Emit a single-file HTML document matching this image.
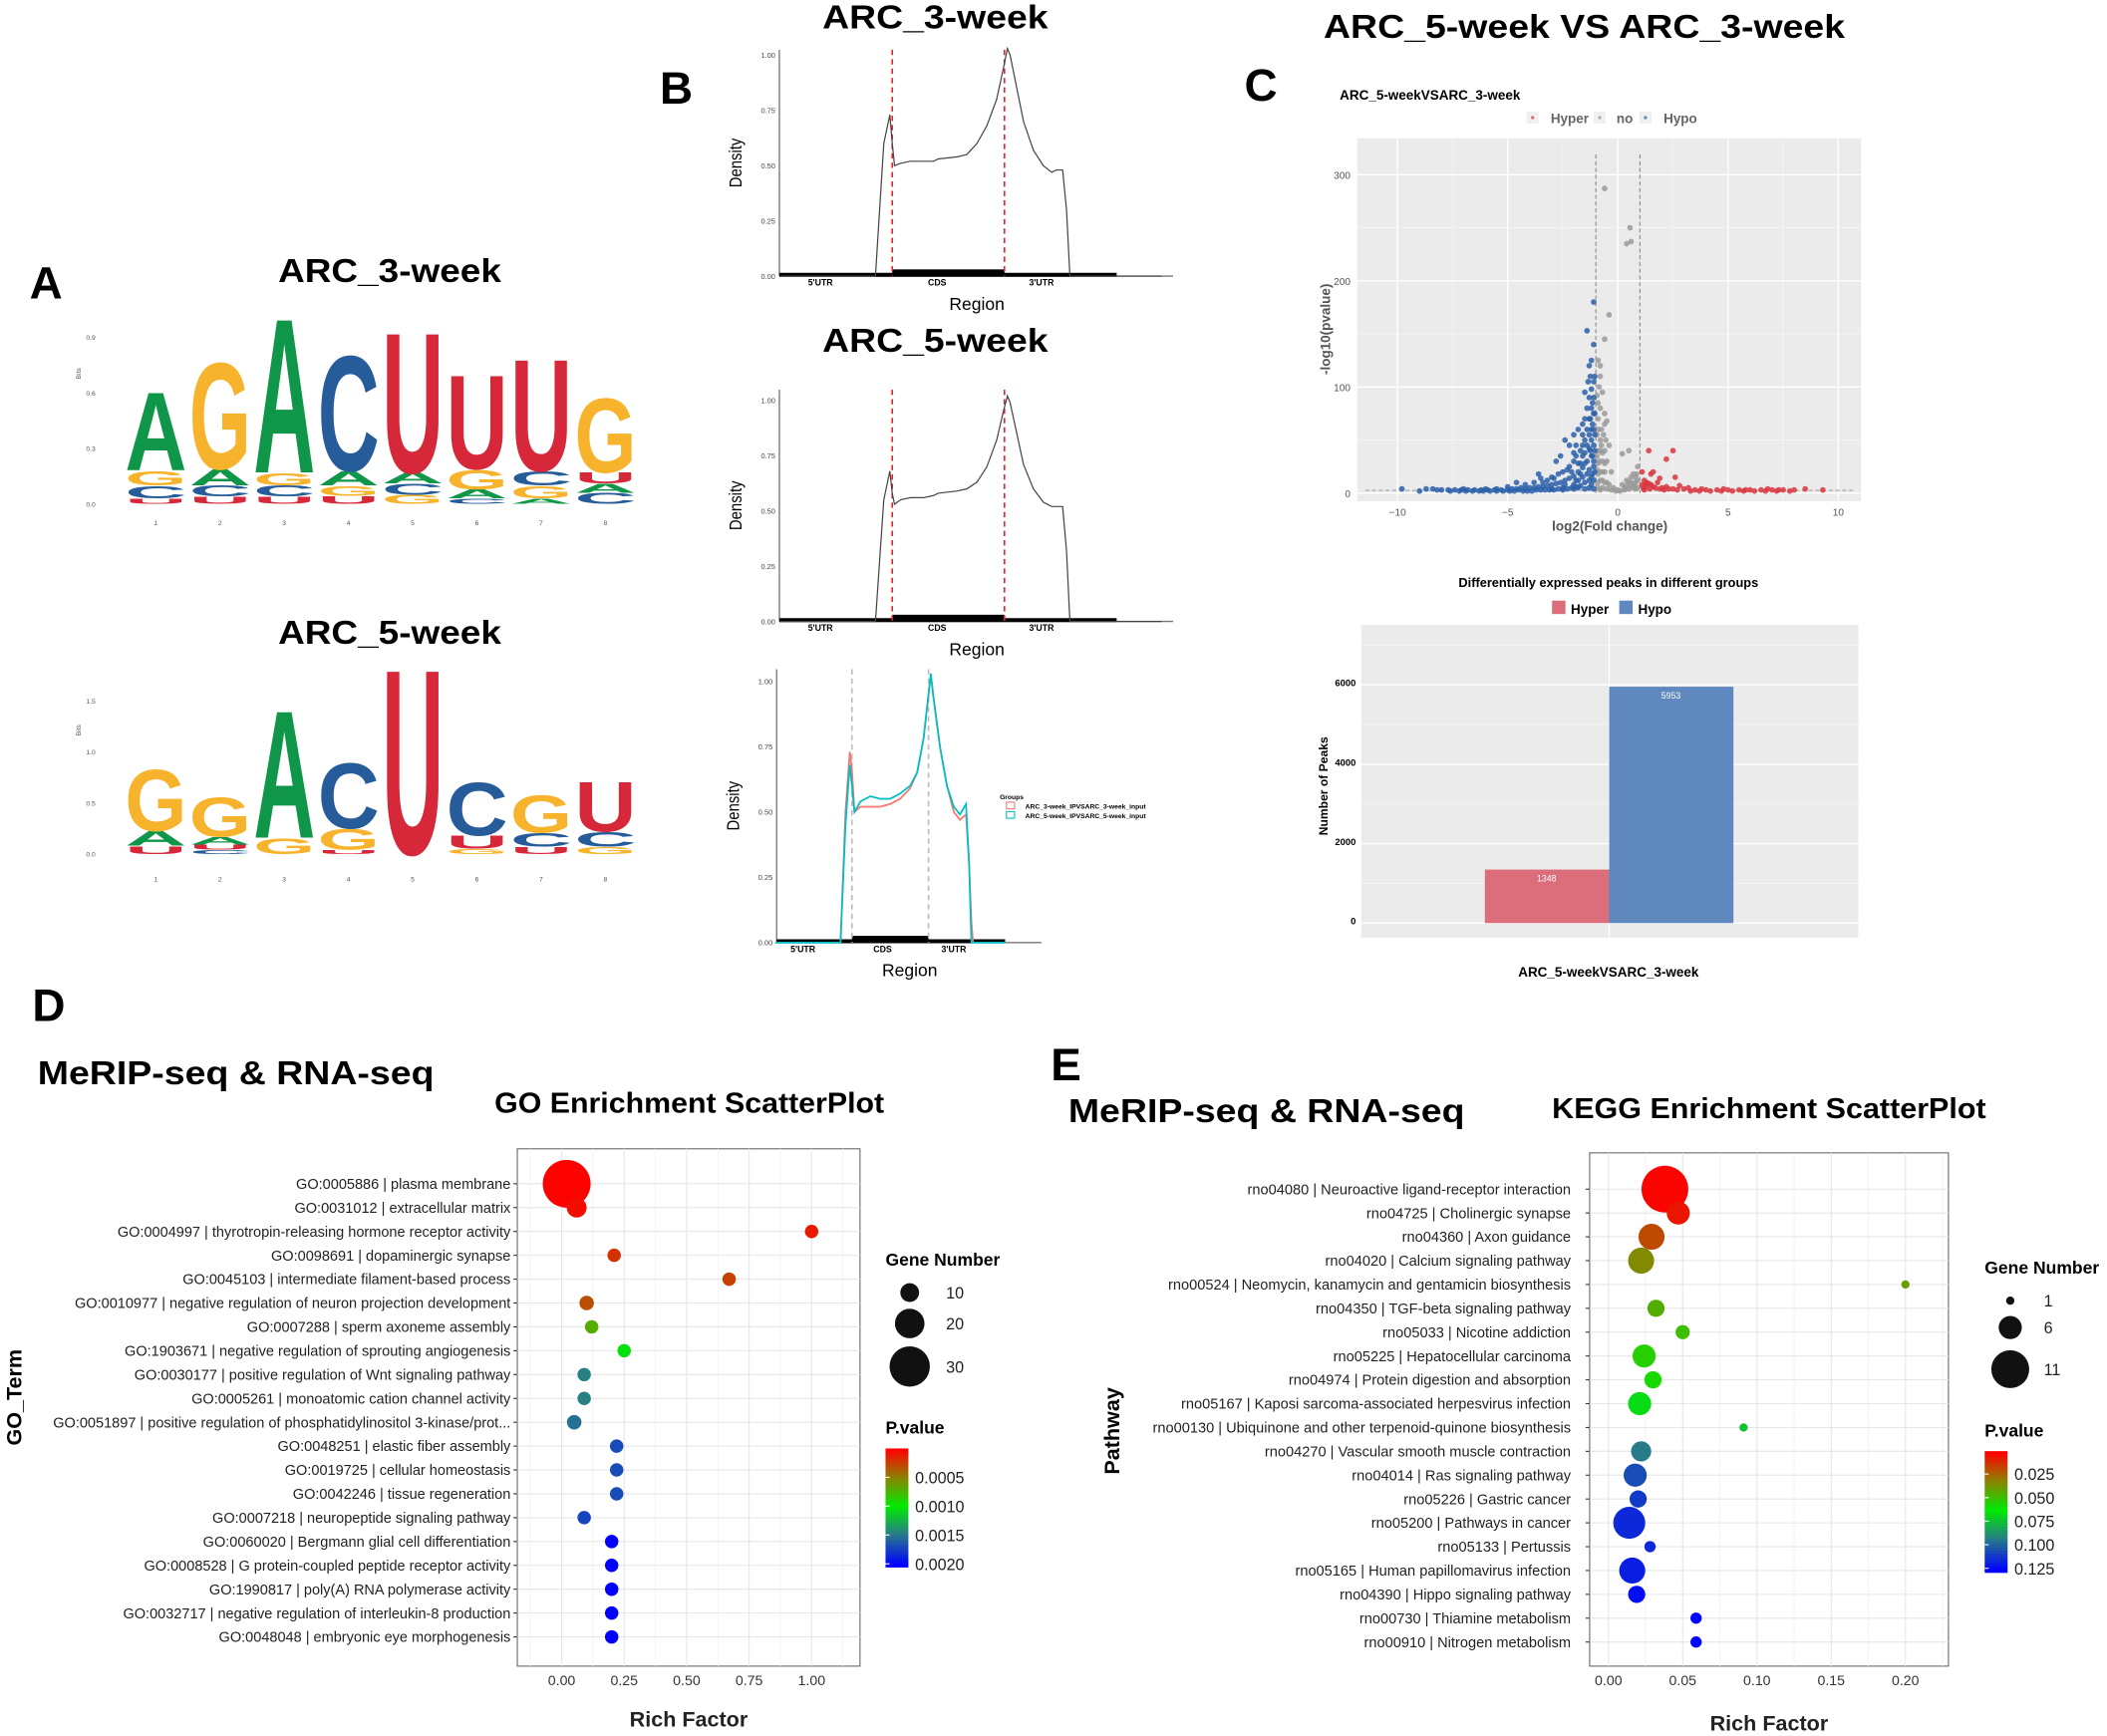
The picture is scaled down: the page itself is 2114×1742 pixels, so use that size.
<!DOCTYPE html>
<html><head><meta charset="utf-8"><style>
html,body{margin:0;padding:0;background:#fff;}
svg{display:block;font-family:"Liberation Sans",Arial,sans-serif;}
</style></head><body>
<svg id="fig" xmlns="http://www.w3.org/2000/svg" width="2114" height="1742" viewBox="0 0 1568 1292" preserveAspectRatio="none">
<rect x="0" y="0" width="1568" height="1292" fill="#fff"/>
<text x="22" y="222" font-size="34" font-weight="bold">A</text>
<text x="207" y="210" font-size="25" font-weight="bold" textLength="166" lengthAdjust="spacingAndGlyphs">ARC_3-week</text>
<text x="207" y="479" font-size="25" font-weight="bold" textLength="166" lengthAdjust="spacingAndGlyphs">ARC_5-week</text>
<text x="491" y="77" font-size="34" font-weight="bold">B</text>
<text x="612" y="21" font-size="25" font-weight="bold" textLength="168" lengthAdjust="spacingAndGlyphs">ARC_3-week</text>
<text x="612" y="262" font-size="25" font-weight="bold" textLength="168" lengthAdjust="spacingAndGlyphs">ARC_5-week</text>
<text x="926" y="75" font-size="34" font-weight="bold">C</text>
<text x="985" y="28" font-size="25" font-weight="bold" textLength="388" lengthAdjust="spacingAndGlyphs">ARC_5-week VS ARC_3-week</text>
<text x="24" y="760" font-size="34" font-weight="bold">D</text>
<text x="28" y="807" font-size="25" font-weight="bold" textLength="295" lengthAdjust="spacingAndGlyphs">MeRIP-seq &amp; RNA-seq</text>
<text x="368" y="828" font-size="21" font-weight="bold" textLength="290" lengthAdjust="spacingAndGlyphs">GO Enrichment ScatterPlot</text>
<text x="782" y="804" font-size="34" font-weight="bold">E</text>
<text x="795" y="835" font-size="25" font-weight="bold" textLength="295" lengthAdjust="spacingAndGlyphs">MeRIP-seq &amp; RNA-seq</text>
<text x="1155" y="832" font-size="21" font-weight="bold" textLength="323" lengthAdjust="spacingAndGlyphs">KEGG Enrichment ScatterPlot</text>
<g id="layer"></g>
</svg>
<script>
const NS="http://www.w3.org/2000/svg";
const L=document.getElementById('layer');
function mk(tag,attrs,txt){const e=document.createElementNS(NS,tag);for(const k in attrs)e.setAttribute(k,attrs[k]);if(txt!==undefined)e.textContent=txt;L.appendChild(e);return e;}

/* ================= Panel A: sequence logos ================= */
const logoColors={A:"#109648",C:"#255c99",G:"#f7b32b",U:"#d62839"};
const logo3Letters=[["U","C","G","A"],["U","C","A","G"],["U","C","G","A"],["U","G","A","C"],["G","C","A","U"],["C","A","G","U"],["A","G","C","U"],["C","A","U","G"]];
const logo3Bits=[[0.03,0.07,0.08,0.44],[0.04,0.06,0.09,0.60],[0.04,0.06,0.07,0.87],[0.045,0.055,0.08,0.65],[0.05,0.06,0.06,0.79],[0.03,0.05,0.11,0.53],[0.03,0.07,0.08,0.63],[0.06,0.05,0.06,0.42]];
const logo5Letters=[["U","A","G"],["C","U","A","G"],["G","A"],["U","G","C"],["U"],["G","U","C"],["U","C","G"],["G","C","U"]];
const logo5Bits=[[0.08,0.15,0.63],[0.04,0.05,0.08,0.40],[0.16,1.30],[0.04,0.21,0.67],[1.89],[0.05,0.13,0.54],[0.07,0.14,0.38],[0.07,0.15,0.51]];
const logo3Ticks=["0.0","0.3","0.6","0.9"], logo3TickVals=[0,0.3,0.6,0.9];
const logo5Ticks=["0.0","0.5","1.0","1.5"], logo5TickVals=[0,0.5,1.0,1.5];
function drawLogo(letters,bits,base,pxPerBit,ticks,tickVals,numY,nm){
  const x0=92,colW=47.8,lw=46;
  letters.forEach((col,i)=>{
    let cum=0;
    col.forEach((ch,j)=>{
      const h=bits[i][j]*pxPerBit; const yb=base-cum*pxPerBit; cum+=bits[i][j];
      if(h<0.5)return;
      const t=mk('text',{x:0,y:0,'font-size':100,'font-weight':'bold',fill:logoColors[ch],textLength:lw,lengthAdjust:'spacingAndGlyphs',transform:`translate(${x0+i*colW+1},${yb}) scale(1,${h/72.9})`},ch);
      
      
    });
    const n=mk('text',{x:x0+i*colW+colW/2,y:numY,'font-size':5,fill:'#555','text-anchor':'middle'},String(i+1));
    
    
  });
  ticks.forEach((tk,k)=>{
    const t=mk('text',{x:71,y:base-tickVals[k]*pxPerBit+2,'font-size':5,fill:'#555','text-anchor':'end'},tk);
    
    
  });
  const b=mk('text',{x:0,y:0,'font-size':5,fill:'#555','text-anchor':'middle',transform:`translate(60,${base-tickVals[3]*pxPerBit*0.5-35}) rotate(-90)`},'Bits');
  
  
}
drawLogo(logo3Letters,logo3Bits,375,137.7,logo3Ticks,logo3TickVals,391,'logo-3week');
drawLogo(logo5Letters,logo5Bits,635.5,76,logo5Ticks,logo5TickVals,656,'logo-5week');

/* ================= Panel B: metagene density ================= */
const densTicks=["0.00","0.25","0.50","0.75","1.00"], densTickVals=[0,0.25,0.5,0.75,1];
const regionLabels=["5'UTR","CDS","3'UTR"], regionLabelPos=[0.36,1.4,2.33];
const dens1X=[0,0.85,0.925,0.978,1.0,1.02,1.073,1.16,1.28,1.37,1.41,1.58,1.665,1.754,1.843,1.93,1.99,2.026,2.05,2.11,2.17,2.257,2.346,2.42,2.465,2.518,2.553,2.583,3.4];
const dens1Y=[0,0,0.60,0.73,0.60,0.50,0.51,0.52,0.52,0.52,0.53,0.54,0.55,0.60,0.68,0.80,0.94,1.03,1.0,0.85,0.70,0.57,0.50,0.47,0.48,0.48,0.30,0,0];
const dens2X=[0,0.85,0.925,0.978,1.0,1.02,1.073,1.16,1.28,1.37,1.41,1.58,1.665,1.754,1.843,1.93,1.99,2.026,2.05,2.11,2.17,2.257,2.346,2.42,2.465,2.518,2.553,2.583,3.4];
const dens2Y=[0,0,0.55,0.68,0.58,0.53,0.55,0.56,0.56,0.57,0.58,0.59,0.60,0.63,0.70,0.82,0.95,1.02,0.99,0.85,0.71,0.60,0.54,0.52,0.52,0.52,0.32,0,0];
const dens3X=[0,0.85,0.915,0.972,1.0,1.033,1.11,1.24,1.37,1.5,1.63,1.76,1.85,1.935,2.0,2.03,2.06,2.15,2.24,2.33,2.41,2.49,2.53,2.56,2.58,3.0];
const dens3RedY=[0,0,0.50,0.73,0.66,0.50,0.52,0.52,0.52,0.53,0.55,0.59,0.65,0.78,0.95,1.02,0.95,0.75,0.60,0.50,0.47,0.49,0.30,0.08,0,0];
const dens3CyanY=[0,0,0.45,0.68,0.60,0.50,0.54,0.56,0.55,0.55,0.57,0.60,0.65,0.78,0.95,1.03,0.95,0.75,0.60,0.52,0.49,0.53,0.30,0,0,0];
function drawDensity(cfg,nm){
  const sx=u=>cfg.x0+u*cfg.unit, sy=v=>cfg.yb-v*cfg.yh;
  let e;
  e=mk('line',{x1:cfg.axX,y1:cfg.yTop,x2:cfg.axX,y2:cfg.yb,stroke:'#777','stroke-width':1});
   
  e=mk('line',{x1:cfg.axX,y1:cfg.yb,x2:cfg.xEnd,y2:cfg.yb,stroke:'#777','stroke-width':1});
   
  densTicks.forEach((tk,k)=>{
    const t=mk('text',{x:cfg.axX-3,y:sy(densTickVals[k])+2,'font-size':5.5,fill:'#444','text-anchor':'end'},tk);
     
  });
  e=mk('line',{x1:cfg.axX,y1:cfg.yb-1,x2:sx(3),y2:cfg.yb-1,stroke:'#000','stroke-width':3});
   
  e=mk('rect',{x:sx(1),y:cfg.yb-5,width:cfg.unit,height:5,fill:'#000'});
   
  [1,2].forEach(u=>{
    const d=mk('line',{x1:sx(u),y1:cfg.yTop,x2:sx(u),y2:cfg.yb,stroke:cfg.dashColor,'stroke-width':1.2,'stroke-dasharray':'4,3'});
     
  });
  cfg.series.forEach(s=>{
    const p=mk('path',{d:s.x.map((u,i)=>(i?'L':'M')+sx(u).toFixed(1)+','+sy(s.y[i]).toFixed(1)).join(''),fill:'none',stroke:s.color,'stroke-width':s.w});
     
  });
  regionLabels.forEach((r,k)=>{
    const t=mk('text',{x:sx(regionLabelPos[k]),y:cfg.yb+7,'font-size':6.5,'font-weight':'bold','text-anchor':'middle'},r);
     
  });
  e=mk('text',{x:cfg.regX,y:cfg.yb+25,'font-size':13,'text-anchor':'middle'},'Region');
   
  e=mk('text',{x:0,y:0,'font-size':13,'text-anchor':'middle',transform:`translate(${cfg.axX-28},${(cfg.yTop+cfg.yb)/2}) rotate(-90) scale(0.85,1)`},'Density');
   
}
drawDensity({x0:580.5,unit:83.5,axX:580,yTop:37,yb:205.5,yh:164.5,xEnd:873,dashColor:'#e8202a',regX:727,series:[{x:dens1X,y:dens1Y,color:'#444',w:0.9}]},'density-3week');
drawDensity({x0:580.5,unit:83.5,axX:580,yTop:290,yb:462.5,yh:164.5,xEnd:873,dashColor:'#e8202a',regX:727,series:[{x:dens2X,y:dens2Y,color:'#444',w:0.9}]},'density-5week');
drawDensity({x0:577,unit:57,axX:578,yTop:498,yb:701.5,yh:194.5,xEnd:775,dashColor:'#bbb',regX:677,series:[{x:dens3X,y:dens3RedY,color:'#f8766d',w:1.3},{x:dens3X,y:dens3CyanY,color:'#00bfc4',w:1.3}]},'density-compare');
(function(){
  let e=mk('text',{x:744,y:595,'font-size':5,'font-weight':'bold'},'Groups');
   
  [['ARC_3-week_IPVSARC_3-week_input','#f8766d',601],['ARC_5-week_IPVSARC_5-week_input','#00bfc4',608]].forEach(g=>{
    const r=mk('rect',{x:749,y:g[2]-4,width:6,height:5,fill:'none',stroke:g[1],'stroke-width':0.8});
     
    const t=mk('text',{x:763,y:g[2]+1,'font-size':5,'font-weight':'bold'},g[0]);
     
  });
})();

/* ================= Panel C: volcano ================= */
const volcHypo=[[-9.8,4],[-9,2],[-8.7,4],[-8.4,4],[-8.2,3],[-8,3],[-7.7,3],[-7.4,3],[-7.1,3],[-6.8,3],[-6.5,3],[-6.2,3],[-5.9,3],[-5.6,3],[-5.3,3],[-5,3],[-4.8,4],[-4.6,4],[-4.4,5],[-4.2,4],[-4,5],[-3.8,5],[-3.6,6],[-3.4,6],[-3.2,7],[-3,8],[-2.8,9],[-2.6,10],[-2.4,12],[-2.2,14],[-2,16],[-1.8,20],[-1.6,24],[-1.4,30],[-1.2,35],[-1.1,45],[-4.6,10],[-3.6,18],[-2.8,30],[-2.4,50],[-2.2,45],[-2,55],[-1.8,60],[-1.6,65],[-1.5,70],[-1.4,80],[-1.3,90],[-1.2,98],[-1.3,55],[-1.1,75],[-1.1,105],[-1.2,125],[-1.3,120],[-1.4,153],[-1.1,180],[-1.05,110],[-1.5,50],[-1.7,40],[-1.9,35],[-2.5,20],[-3,15],[-3.8,10],[-2,30],[-1.6,15],[-1.2,15],[-1.4,45],[-1.2,60],[-1.15,85],[-1.6,55],[-1.25,70],[-2.5,5],[-2,8],[-1.5,10],[-1.2,8],[-1.8,5],[-1.3,22],[-1.1,30],[-1.05,55],[-1.05,20],[-6,4],[-7,4],[-5.5,4],[-4.5,3],[-3.5,3],[-3,4],[-2.5,3],[-2,4],[-1.5,4],[-1.7,28],[-1.5,38],[-1.3,42],[-1.15,65],[-2.2,25],[-1.9,12],[-1.4,18],[-1.1,12],
[-7.6,2],[-7.2,2],[-6.9,2],[-6.6,2],[-6.3,2],[-6.1,2],[-5.8,2],[-5.5,2],[-5.2,2],[-4.9,2],[-4.7,2],[-4.3,2],[-4.1,2],[-3.9,2],[-3.7,3],[-3.3,3],[-3.1,3],[-2.9,3],[-2.7,4],[-2.3,4],[-2.1,5],[-1.9,6],[-1.7,7],[-1.3,5],[-1.1,4],[-3.4,10],[-3.2,12],[-2.9,14],[-2.7,18],[-2.3,22],[-2.1,20],[-2.0,38],[-1.9,45],[-1.8,28],[-1.7,18],[-1.6,35],[-1.5,28],[-1.4,60],[-1.3,70],[-1.25,40],[-1.2,50],[-1.15,35],[-1.1,25],[-1.05,40],[-1.05,75],[-1.1,90],[-1.2,80],[-1.35,105],[-1.5,95],[-1.1,140],[-1.25,110],[-2.6,35],[-3.5,14],[-4.2,8],[-5,6],[-1.8,12],[-2.4,8],[-1.3,12],[-1.6,45],[-1.15,18],[-1.1,60]];
const volcNo=[[-0.9,10],[-0.8,20],[-0.7,30],[-0.9,40],[-0.8,50],[-0.75,60],[-0.9,70],[-0.6,75],[-0.6,65],[-0.5,68],[-0.85,100],[-0.7,95],[-0.9,125],[-0.8,120],[-0.8,110],[-0.6,145],[-0.4,168],[-0.6,287],[0.55,250],[0.4,235],[0.6,237],[-0.9,85],[-0.5,30],[-0.3,20],[-0.5,10],[-0.2,5],[0,3],[0.2,8],[0.4,12],[0.6,15],[0.8,10],[0.9,25],[0.5,40],[0.2,37],[0.7,18],[-0.7,5],[-0.9,28],[-0.8,40],[-0.6,40],[0.3,5],[0.9,5],[-0.4,45],[-0.95,55],[-0.95,92],[-0.9,18],[-0.7,12],[-0.8,3],[0.6,6],[0.8,15],[-0.95,35],[-0.6,20],[0.5,10],
[-0.9,5],[-0.8,12],[-0.7,20],[-0.6,10],[-0.5,4],[-0.4,8],[-0.3,3],[-0.1,2],[0.1,2],[0.3,3],[0.5,4],[0.7,5],[0.9,12],[0.8,4],[0.6,10],[0.4,7],[-0.85,30],[-0.75,45],[-0.65,55],[-0.55,50],[-0.95,22],[-0.9,60],[-0.8,80],[-0.7,38],[-0.6,28],[0.85,18],[0.75,8]];
const volcHyper=[[1.1,8],[1.2,12],[1.4,40],[1.5,18],[1.6,20],[1.9,14],[2.2,32],[2.5,40],[2.6,15],[1.3,6],[1.6,6],[2,5],[2.5,4],[3,4],[3.5,3],[4,3],[4.5,3],[5,3],[5.5,3],[6,3],[6.5,3],[7,3],[7.5,3],[8,3],[8.5,4],[9.3,3],[1.2,3],[1.8,10],[2.8,7],[3.2,5],[1.1,20],[1.4,9],[2.2,6],[3.8,4],[4.8,4],[5.8,3],[6.8,4],[7.3,3],
[1.15,5],[1.3,10],[1.5,8],[1.7,5],[2.1,3],[2.3,4],[2.7,3],[3.3,2],[3.7,2],[4.2,2],[4.7,2],[5.2,2],[5.7,2],[6.2,2],[6.7,2],[7.2,2],[7.8,2],[1.25,8],[1.45,4],[1.9,4]];
const volcXTicks=[-10,-5,0,5,10], volcYTicks=[0,100,200,300];
(function(){
  const vx=v=>1204+v*16.4, vy=v=>367-v*0.79;
  let e=mk('rect',{x:1010,y:103,width:375,height:270,fill:'#ebebeb'});
   
  [-7.5,-2.5,2.5,7.5].forEach(v=>{const g=mk('line',{x1:vx(v),y1:103,x2:vx(v),y2:373,stroke:'#f5f5f5','stroke-width':0.6});});
  [50,150,250].forEach(v=>{const g=mk('line',{x1:1010,y1:vy(v),x2:1385,y2:vy(v),stroke:'#f5f5f5','stroke-width':0.6});});
  volcXTicks.forEach(v=>{
    const g=mk('line',{x1:vx(v),y1:103,x2:vx(v),y2:373,stroke:'#fff','stroke-width':1});
     
    const t=mk('text',{x:vx(v),y:384,'font-size':7.5,fill:'#555','text-anchor':'middle'},v===-10?'\u221210':v===-5?'\u22125':String(v));
     
  });
  volcYTicks.forEach(v=>{
    const g=mk('line',{x1:1010,y1:vy(v),x2:1385,y2:vy(v),stroke:'#fff','stroke-width':1});
     
    const t=mk('text',{x:1005,y:vy(v)+3,'font-size':7.5,fill:'#555','text-anchor':'end'},String(v));
     
  });
  [-1,1].forEach(v=>{const d=mk('line',{x1:vx(v),y1:115,x2:vx(v),y2:367,stroke:'#888','stroke-width':0.8,'stroke-dasharray':'3,2'});});
  e=mk('line',{x1:1016,y1:365,x2:1380,y2:365,stroke:'#999','stroke-width':0.7,'stroke-dasharray':'3,2'});
   
  [[volcNo,'#9a9a9a','no'],[volcHypo,'#2a5fa8','hypo'],[volcHyper,'#d9363e','hyper']].forEach(s=>{
    s[0].forEach(p=>{
      const c=mk('circle',{cx:vx(p[0]),cy:vy(p[1]),r:2.1,fill:s[1],'fill-opacity':0.85});
       
    });
  });
  e=mk('text',{x:997,y:74,'font-size':10,'font-weight':'bold'},'ARC_5-weekVSARC_3-week');
   
  [['Hyper','#e06670',1140,1154],['no','#aaa',1190,1203],['Hypo','#5f88bf',1224,1238]].forEach(g=>{
    const r=mk('rect',{x:g[2]-4,y:83,width:9,height:9,fill:'#f0f0f0'});
     
    const c=mk('circle',{cx:g[2]+0.5,cy:87.5,r:1.2,fill:g[1]});
     
    const t=mk('text',{x:g[3],y:91.5,'font-size':10,'font-weight':'bold',fill:'#666'},g[0]);
     
  });
  e=mk('text',{x:1198,y:395,'font-size':10,'font-weight':'bold',fill:'#555','text-anchor':'middle'},'log2(Fold change)');
   
  e=mk('text',{x:0,y:0,'font-size':10,'font-weight':'bold',fill:'#555','text-anchor':'middle',transform:'translate(990,245) rotate(-90)'},'-log10(pvalue)');
   
})();

/* ================= Panel C: bar chart ================= */
const barGroups=["Hyper","Hypo"];
const barValues=[1348,5953];
const barColors=["#dc6e7c","#5f88bf"];
const barYTicks=[0,2000,4000,6000];
(function(){
  const by=v=>687-v*0.02955;
  let e=mk('rect',{x:1013,y:465,width:370,height:233,fill:'#ebebeb'});
   
  [1000,3000,5000,7000].forEach(v=>{const g=mk('line',{x1:1013,y1:by(v),x2:1383,y2:by(v),stroke:'#f5f5f5','stroke-width':0.6});});
  barYTicks.forEach(v=>{
    const g=mk('line',{x1:1013,y1:by(v),x2:1383,y2:by(v),stroke:'#fff','stroke-width':1});
     
    const t=mk('text',{x:1009,y:by(v)+1,'font-size':7,'font-weight':'bold','text-anchor':'end'},String(v));
     
  });
  e=mk('line',{x1:1197.5,y1:465,x2:1197.5,y2:698,stroke:'#fff','stroke-width':1});
   
  barValues.forEach((v,i)=>{
    const x=1105+i*92.5;
    const r=mk('rect',{x:x,y:by(v),width:92.5,height:by(0)-by(v),fill:barColors[i]});
     
    const t=mk('text',{x:x+46,y:by(v)+9,'font-size':6.5,fill:'#fff','text-anchor':'middle'},String(v));
     
  });
  e=mk('text',{x:1197,y:437,'font-size':9.5,'font-weight':'bold','text-anchor':'middle'},'Differentially expressed peaks in different groups');
   
  barGroups.forEach((g,i)=>{
    const r=mk('rect',{x:1155+i*50,y:447,width:10,height:10,fill:barColors[i]});
     
    const t=mk('text',{x:1169+i*50,y:457,'font-size':10,'font-weight':'bold'},g);
     
  });
  e=mk('text',{x:1197,y:727,'font-size':10,'font-weight':'bold','text-anchor':'middle'},'ARC_5-weekVSARC_3-week');
   
  e=mk('text',{x:0,y:0,'font-size':9,'font-weight':'bold','text-anchor':'middle',transform:'translate(988,585) rotate(-90)'},'Number of Peaks');
   
})();

/* ================= Panels D & E: enrichment scatter ================= */
const goTerms=["GO:0005886 | plasma membrane","GO:0031012 | extracellular matrix","GO:0004997 | thyrotropin-releasing hormone receptor activity","GO:0098691 | dopaminergic synapse","GO:0045103 | intermediate filament-based process","GO:0010977 | negative regulation of neuron projection development","GO:0007288 | sperm axoneme assembly","GO:1903671 | negative regulation of sprouting angiogenesis","GO:0030177 | positive regulation of Wnt signaling pathway","GO:0005261 | monoatomic cation channel activity","GO:0051897 | positive regulation of phosphatidylinositol 3-kinase/prot...","GO:0048251 | elastic fiber assembly","GO:0019725 | cellular homeostasis","GO:0042246 | tissue regeneration","GO:0007218 | neuropeptide signaling pathway","GO:0060020 | Bergmann glial cell differentiation","GO:0008528 | G protein-coupled peptide receptor activity","GO:1990817 | poly(A) RNA polymerase activity","GO:0032717 | negative regulation of interleukin-8 production","GO:0048048 | embryonic eye morphogenesis"];
const goRich=[0.02,0.06,1.00,0.21,0.67,0.10,0.12,0.25,0.09,0.09,0.05,0.22,0.22,0.22,0.09,0.20,0.20,0.20,0.20,0.20];
const goGenes=[37,11,5,5,5,6,5,5,5,5,6,5,5,5,5,5,5,5,5,5];
const goPval=[0.00001,0.00005,0.0001,0.00018,0.00025,0.0003,0.0007,0.00105,0.00148,0.00148,0.00155,0.00172,0.00172,0.00172,0.00175,0.00205,0.00205,0.00205,0.00205,0.00205];
const goXTicks=[0,0.25,0.5,0.75,1.0], goXTickLabels=["0.00","0.25","0.50","0.75","1.00"];
const goSizeLegend=[10,20,30], goPLegend=[0.0005,0.0010,0.0015,0.0020], goPLegendLabels=["0.0005","0.0010","0.0015","0.0020"];

const keggTerms=["rno04080 | Neuroactive ligand-receptor interaction","rno04725 | Cholinergic synapse","rno04360 | Axon guidance","rno04020 | Calcium signaling pathway","rno00524 | Neomycin, kanamycin and gentamicin biosynthesis","rno04350 | TGF-beta signaling pathway","rno05033 | Nicotine addiction","rno05225 | Hepatocellular carcinoma","rno04974 | Protein digestion and absorption","rno05167 | Kaposi sarcoma-associated herpesvirus infection","rno00130 | Ubiquinone and other terpenoid-quinone biosynthesis","rno04270 | Vascular smooth muscle contraction","rno04014 | Ras signaling pathway","rno05226 | Gastric cancer","rno05200 | Pathways in cancer","rno05133 | Pertussis","rno05165 | Human papillomavirus infection","rno04390 | Hippo signaling pathway","rno00730 | Thiamine metabolism","rno00910 | Nitrogen metabolism"];
const keggRich=[0.038,0.047,0.029,0.022,0.200,0.032,0.050,0.024,0.030,0.021,0.091,0.022,0.018,0.020,0.014,0.028,0.016,0.019,0.059,0.059];
const keggGenes=[14,6,7,7,1,4,3,6,4,6,1,5,6,4,9,2,7,4,2,2];
const keggPval=[0.002,0.006,0.018,0.034,0.040,0.045,0.050,0.055,0.058,0.068,0.075,0.095,0.108,0.113,0.118,0.118,0.121,0.125,0.128,0.128];
const keggXTicks=[0,0.05,0.10,0.15,0.20], keggXTickLabels=["0.00","0.05","0.10","0.15","0.20"];
const keggSizeLegend=[1,6,11], keggPLegend=[0.025,0.05,0.075,0.1,0.125], keggPLegendLabels=["0.025","0.050","0.075","0.100","0.125"];

const gradStops=[[0,[255,0,0]],[0.24,[140,130,0]],[0.49,[0,235,0]],[0.73,[40,125,135]],[1,[0,0,255]]];
function pcol(t){t=Math.max(0,Math.min(1,t));for(let i=1;i<gradStops.length;i++){if(t<=gradStops[i][0]){const a=gradStops[i-1],b=gradStops[i],f=(t-a[0])/(b[0]-a[0]);return 'rgb('+a[1].map((c,k)=>Math.round(c+(b[1][k]-c)*f)).join(',')+')';}}return 'rgb(0,0,255)';}

function drawEnrich(c,nm){
  const sx=v=>c.x0+v*c.xs, ry=i=>c.y0+i*c.rowH;
  const pt=p=>(p-c.pmin)/(c.pmax-c.pmin);
  let e=mk('rect',{x:c.bx,y:c.by,width:c.bw,height:c.bh,fill:'#fff',stroke:'#666','stroke-width':0.8});
   
  const step=c.xt[1]-c.xt[0];
  [c.xt[0]-step/2].concat(c.xt.map(v=>v+step/2)).forEach(m=>{
    if(sx(m)<=c.bx||sx(m)>=c.bx+c.bw)return;
    const g2=mk('line',{x1:sx(m),y1:c.by,x2:sx(m),y2:c.by+c.bh,stroke:'#f2f2f2','stroke-width':0.6});
     
  });
  c.xt.forEach((v,k)=>{
    const g=mk('line',{x1:sx(v),y1:c.by,x2:sx(v),y2:c.by+c.bh,stroke:'#e6e6e6','stroke-width':0.8});
     
    const t=mk('text',{x:sx(v),y:c.by+c.bh+14,'font-size':10.5,fill:'#333','text-anchor':'middle'},c.xtl[k]);
     
  });
  c.terms.forEach((term,i)=>{
    const g=mk('line',{x1:c.bx,y1:ry(i),x2:c.bx+c.bw,y2:ry(i),stroke:'#e6e6e6','stroke-width':0.8});
     
    const tk=mk('line',{x1:c.bx-3,y1:ry(i),x2:c.bx,y2:ry(i),stroke:'#333','stroke-width':0.8});
     
    const t=mk('text',{x:0,y:0,'font-size':11,fill:'#222','text-anchor':'end',transform:`translate(${c.bx-c.labGap},${ry(i)+3.8}) scale(${c.labScale},1)`},term);
     
  });
  c.terms.forEach((term,i)=>{
    const d=mk('circle',{cx:sx(c.rich[i]),cy:ry(i),r:c.rad(c.genes[i]),fill:pcol(pt(c.pv[i]))});
     
  });
  e=mk('text',{x:c.bx+c.bw/2,y:c.by+c.bh+c.titleOff,'font-size':16,'font-weight':'bold','text-anchor':'middle',fill:'#222'},'Rich Factor');
   
  e=mk('text',{x:0,y:0,'font-size':16,'font-weight':'bold','text-anchor':'middle',transform:`translate(${c.ytX},${c.ytY}) rotate(-90)`},c.ytitle);
   
  e=mk('text',{x:c.lx,y:c.sizeTitleY,'font-size':13,'font-weight':'bold'},'Gene Number');
   
  c.sizeLeg.forEach((n,k)=>{
    const d=mk('circle',{cx:c.lx+c.slcx,cy:c.sizeYs[k],r:c.rad(n),fill:'#111'});
     
    const t=mk('text',{x:c.lx+c.sltx,y:c.sizeYs[k]+4.5,'font-size':12,fill:'#222'},String(n));
     
  });
  e=mk('text',{x:c.lx,y:c.pTitleY,'font-size':13,'font-weight':'bold'},'P.value');
   
  const n=40;
  for(let k=0;k<n;k++){
    const r=mk('rect',{x:c.lx,y:c.cbTop+k*(c.cbH/n),width:17,height:c.cbH/n+0.6,fill:pcol(k/(n-1))});
     
  }
  c.pLeg.forEach((p,k)=>{
    const y=c.cbTop+pt(p)*c.cbH;
    const t=mk('text',{x:c.lx+22,y:y+4.5,'font-size':12,fill:'#222'},c.pLegL[k]);
     
    const tk=mk('line',{x1:c.lx,y1:y,x2:c.lx+3,y2:y,stroke:'#fff','stroke-width':0.8});
     
  });
}
drawEnrich({bx:385,by:855,bw:255,bh:385,x0:418,xs:186,y0:881,rowH:17.75,terms:goTerms,rich:goRich,genes:goGenes,pv:goPval,pmin:0,pmax:0.00205,labGap:5,labScale:0.98,
  rad:n=>3+0.4*n,xt:goXTicks,xtl:goXTickLabels,titleOff:45,ytitle:'GO_Term',ytX:16,ytY:1040,lx:659,sizeTitleY:942,slcx:18,sltx:45,sizeYs:[962,985,1017],
  sizeLeg:goSizeLegend,pTitleY:1067,cbTop:1078,cbH:88,pLeg:goPLegend,pLegL:goPLegendLabels},'go');
drawEnrich({bx:1183,by:858,bw:267,bh:382,x0:1197,xs:1105,y0:885,rowH:17.74,terms:keggTerms,rich:keggRich,genes:keggGenes,pv:keggPval,pmin:0.0007,pmax:0.129,labGap:14,labScale:0.985,
  rad:n=>2+1.1*n,xt:keggXTicks,xtl:keggXTickLabels,titleOff:48,ytitle:'Pathway',ytX:833,ytY:1065,lx:1477,sizeTitleY:948,slcx:19,sltx:44,sizeYs:[968,988,1019],
  sizeLeg:keggSizeLegend,pTitleY:1069,cbTop:1080,cbH:90,pLeg:keggPLegend,pLegL:keggPLegendLabels},'kegg');
</script>
</body></html>
